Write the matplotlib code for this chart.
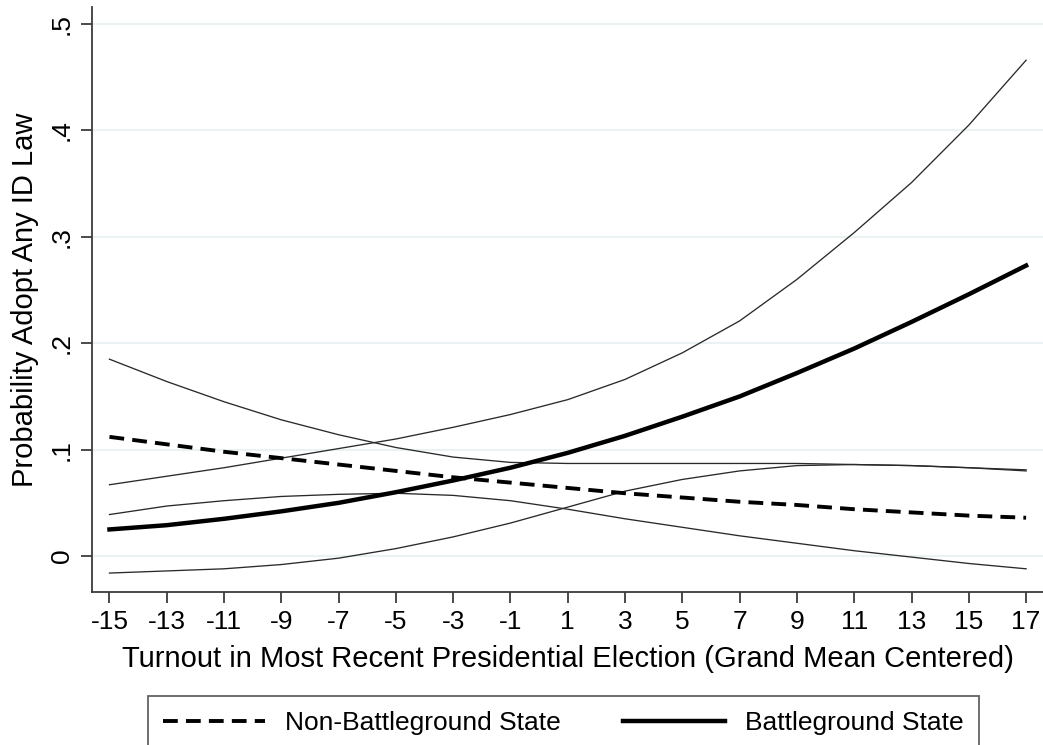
import numpy as np
import matplotlib
matplotlib.use("Agg")
import matplotlib.pyplot as plt

plt.rcParams['font.family'] = ['Liberation Sans', 'DejaVu Sans']

# turnout values (grand mean centered)
turnout = [-15, -13, -11, -9, -7, -5, -3, -1, 1, 3, 5, 7, 9, 11, 13, 15, 17]

# battleground states: prediction and 95% bounds
bg_pred = [0.025, 0.029, 0.035, 0.042, 0.050, 0.060, 0.071, 0.083, 0.097,
           0.113, 0.131, 0.150, 0.172, 0.195, 0.220, 0.246, 0.273]
bg_upper = [0.067, 0.075, 0.083, 0.092, 0.101, 0.110, 0.121, 0.133, 0.147,
            0.166, 0.191, 0.221, 0.260, 0.304, 0.351, 0.405, 0.466]
bg_lower = [-0.016, -0.014, -0.012, -0.008, -0.002, 0.007, 0.018, 0.031, 0.046,
            0.061, 0.072, 0.080, 0.085, 0.086, 0.085, 0.083, 0.080]

# non-battleground states: prediction and 95% bounds
nb_pred = [0.112, 0.105, 0.098, 0.092, 0.086, 0.080, 0.074, 0.069, 0.064,
           0.059, 0.055, 0.051, 0.048, 0.044, 0.041, 0.038, 0.036]
nb_upper = [0.185, 0.164, 0.145, 0.128, 0.114, 0.102, 0.093, 0.088, 0.087,
            0.087, 0.087, 0.087, 0.087, 0.086, 0.085, 0.083, 0.081]
nb_lower = [0.039, 0.047, 0.052, 0.056, 0.058, 0.059, 0.057, 0.052, 0.044,
            0.035, 0.027, 0.019, 0.012, 0.005, -0.001, -0.007, -0.012]

y_ticks = [0, 0.1, 0.2, 0.3, 0.4, 0.5]
y_tick_labels = ['0', '.1', '.2', '.3', '.4', '.5']

fig = plt.figure(figsize=(10.43, 7.45), dpi=100)
ax = fig.add_axes([92 / 1043, 1 - 592 / 745, 1 - 92 / 1043, (592 - 7) / 745])

thin = dict(color='#2a2a2a', lw=0.95)
for band in (bg_upper, bg_lower, nb_upper, nb_lower):
    ax.plot(turnout, band, **thin)

l_nb, = ax.plot(turnout, nb_pred, color='black', lw=2.8, ls=(0, (3.8, 2.1)),
                label='Non-Battleground State')
l_bg, = ax.plot(turnout, bg_pred, color='black', lw=3.2,
                label='Battleground State')

ax.set_xlim(-15.61, 17.59)
ax.set_ylim(-0.0338, 0.516)
ax.set_xticks(turnout)
ax.set_xticklabels([str(t) for t in turnout])
ax.set_yticks(y_ticks)
ax.set_yticklabels(y_tick_labels, rotation=90, va='center')

for y in y_ticks:
    ax.axhline(y, color='#eaf2f3', lw=1.5, zorder=0)

for s in ('top', 'right'):
    ax.spines[s].set_visible(False)
for s in ('left', 'bottom'):
    ax.spines[s].set_color('#3c3c3c')
    ax.spines[s].set_linewidth(1.3)

ax.tick_params(axis='both', direction='out', length=8, width=1.3, color='#3c3c3c',
               labelsize=19, pad=5)
ax.set_xlabel('Turnout in Most Recent Presidential Election (Grand Mean Centered)',
              fontsize=21, labelpad=8)
ax.set_ylabel('Probability Adopt Any ID Law', fontsize=21, labelpad=8)

leg = fig.legend(handles=[l_nb, l_bg], loc='upper left', ncol=2,
                 bbox_to_anchor=(148 / 1043, 1 - 696 / 745), fontsize=19,
                 handlelength=3.86, columnspacing=2.35, handletextpad=0.76,
                 borderpad=0.58, borderaxespad=0, frameon=True, fancybox=False)
leg.get_frame().set_edgecolor('#3c3c3c')
leg.get_frame().set_linewidth(1.3)

fig.savefig('out.png', dpi=100)
